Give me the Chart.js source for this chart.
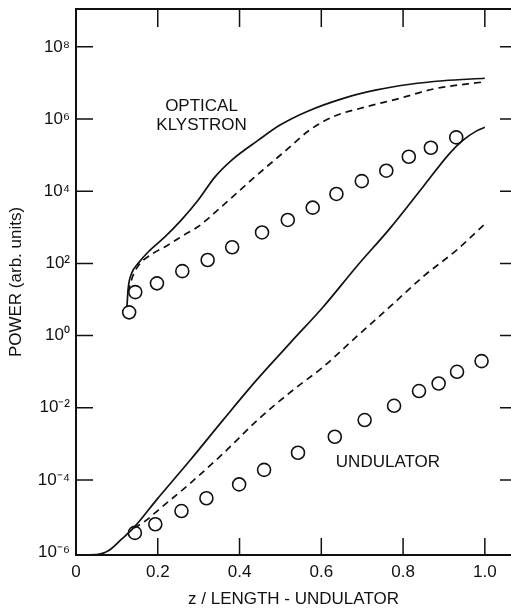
<!DOCTYPE html>
<html>
<head>
<meta charset="utf-8">
<script src="https://cdn.jsdelivr.net/npm/chart.js@4.4.0/dist/chart.umd.min.js"></script>
<style>
  html, body { margin: 0; padding: 0; background: #fff; overflow: hidden; }
</style>
</head>
<body>
<canvas id="powerChart" width="511" height="610"></canvas>
<script>
// values (z = position / undulator length, power in arb. units)
const klystronSolidZ = [0.1245, 0.128, 0.136, 0.152, 0.177, 0.218, 0.258, 0.299, 0.340, 0.381, 0.446, 0.499, 0.564, 0.654, 0.735, 0.817, 0.898, 1.0];
const klystronSolidP = [6.3, 22, 53, 100, 210, 550, 1.6e3, 5.7e3, 2.5e4, 7.3e4, 2.6e5, 6.8e5, 1.6e6, 3.75e6, 6.4e6, 9.2e6, 1.15e7, 1.35e7];

const klystronDashZ = [0.127, 0.136, 0.144, 0.157, 0.189, 0.218, 0.271, 0.299, 0.352, 0.434, 0.515, 0.572, 0.629, 0.711, 0.792, 0.874, 1.0];
const klystronDashP = [16, 36, 60, 100, 190, 290, 680, 1.05e3, 3.4e3, 2.3e4, 1.4e5, 5.0e5, 1.16e6, 2.2e6, 3.75e6, 6.8e6, 1.08e7];

const klystronDotsZ = [0.130, 0.145, 0.198, 0.260, 0.322, 0.382, 0.455, 0.518, 0.579, 0.637, 0.699, 0.759, 0.814, 0.868, 0.930];
const klystronDotsP = [4.4, 16, 28, 61, 124, 280, 720, 1.6e3, 3.5e3, 8.4e3, 1.9e4, 3.7e4, 9.0e4, 1.6e5, 3.1e5];

const undulatorSolidZ = [0, 0.05, 0.08, 0.11, 0.143, 0.197, 0.279, 0.360, 0.442, 0.523, 0.605, 0.686, 0.768, 0.849, 0.914, 0.947, 0.980, 1.0];
const undulatorSolidP = [8.4e-7, 8.5e-7, 1.1e-6, 2.2e-6, 5.0e-6, 2.8e-5, 3.5e-4, 4.6e-3, 5.9e-2, 0.61, 6.3, 81, 935, 1.33e4, 1.12e5, 2.6e5, 4.7e5, 5.9e5];

const undulatorDashZ = [0.142, 0.173, 0.204, 0.279, 0.360, 0.448, 0.531, 0.605, 0.686, 0.768, 0.849, 0.931, 1.0];
const undulatorDashP = [4.6e-6, 7.8e-6, 1.55e-5, 8.0e-5, 5.4e-4, 5.0e-3, 3.1e-2, 0.136, 0.93, 6.3, 43, 234, 1.23e3];

const undulatorDotsZ = [0.144, 0.194, 0.258, 0.319, 0.399, 0.460, 0.543, 0.633, 0.706, 0.778, 0.839, 0.887, 0.932, 0.992];
const undulatorDotsP = [3.4e-6, 5.9e-6, 1.37e-5, 3.1e-5, 7.5e-5, 1.9e-4, 5.65e-4, 1.57e-3, 4.55e-3, 1.13e-2, 2.9e-2, 4.7e-2, 9.9e-2, 0.196];

const xTicks = [0, 0.2, 0.4, 0.6, 0.8, 1.0];
const xTickLabels = ['0', '0.2', '0.4', '0.6', '0.8', '1.0'];
const yTicks = [1e-6, 1e-4, 1e-2, 1e0, 1e2, 1e4, 1e6, 1e8];
const yTickLabels = ['10⁻⁶', '10⁻⁴', '10⁻²', '10⁰', '10²', '10⁴', '10⁶', '10⁸'];

const curveLabels = [
  { text: 'OPTICAL', z: 0.307, p: 2.3e6 },
  { text: 'KLYSTRON', z: 0.307, p: 6.5e5 },
  { text: 'UNDULATOR', z: 0.763, p: 3.1e-4 }
];

const FONT = '"Liberation Sans", Arial, sans-serif';
const INK = '#111';

function pts(zs, ps) {
  return zs.map((z, i) => ({ x: z, y: ps[i] }));
}

function curve(zs, ps, dash) {
  return {
    data: pts(zs, ps),
    showLine: true,
    borderColor: INK,
    borderWidth: 1.7,
    borderDash: dash,
    pointRadius: 0,
    cubicInterpolationMode: 'monotone',
    fill: false
  };
}

function dots(zs, ps) {
  return {
    data: pts(zs, ps),
    showLine: false,
    pointStyle: 'circle',
    pointRadius: 6.5,
    pointBorderWidth: 1.6,
    pointBorderColor: INK,
    pointBackgroundColor: 'rgba(0,0,0,0)'
  };
}

// frame with inward tick marks + curve labels
const frameTicks = {
  id: 'frameTicks',
  afterDatasetsDraw(chart) {
    const { ctx, chartArea: a, scales: { x, y } } = chart;
    ctx.save();
    ctx.strokeStyle = INK;
    ctx.lineWidth = 2;
    ctx.beginPath();
    ctx.moveTo(a.right, a.top);
    ctx.lineTo(a.left, a.top);
    ctx.lineTo(a.left, a.bottom);
    ctx.lineTo(a.right, a.bottom);
    ctx.stroke();

    ctx.lineWidth = 1.5;
    ctx.beginPath();
    x.ticks.forEach(t => {
      if (t.value === 0) return;
      const px = x.getPixelForValue(t.value);
      ctx.moveTo(px, a.bottom);
      ctx.lineTo(px, a.bottom - 17);
      ctx.moveTo(px, a.top);
      ctx.lineTo(px, a.top + 18);
    });
    y.ticks.forEach(t => {
      const py = y.getPixelForValue(t.value);
      if (Math.abs(py - a.bottom) < 3) return;
      ctx.moveTo(a.left, py);
      ctx.lineTo(a.left + 17, py);
      ctx.moveTo(a.right, py);
      ctx.lineTo(a.right - 11, py);
    });
    ctx.stroke();

    ctx.fillStyle = INK;
    ctx.font = '17px ' + FONT;
    ctx.textAlign = 'center';
    ctx.textBaseline = 'middle';
    curveLabels.forEach(l => {
      ctx.fillText(l.text, x.getPixelForValue(l.z), y.getPixelForValue(l.p));
    });
    ctx.restore();
  }
};

Chart.defaults.color = INK;
Chart.defaults.font.family = FONT;

new Chart(document.getElementById('powerChart'), {
  type: 'scatter',
  data: {
    datasets: [
      curve(klystronSolidZ, klystronSolidP, []),
      curve(klystronDashZ, klystronDashP, [7, 5]),
      dots(klystronDotsZ, klystronDotsP),
      curve(undulatorSolidZ, undulatorSolidP, []),
      curve(undulatorDashZ, undulatorDashP, [7, 5]),
      dots(undulatorDotsZ, undulatorDotsP)
    ]
  },
  options: {
    responsive: false,
    animation: false,
    layout: { autoPadding: false, padding: { top: 9, left: 0, right: 0, bottom: 0 } },
    plugins: {
      legend: { display: false },
      tooltip: { enabled: false }
    },
    scales: {
      x: {
        type: 'linear',
        min: 0,
        max: 1.064,
        grid: { display: false, drawTicks: false },
        border: { display: false },
        afterBuildTicks: s => { s.ticks = xTicks.map(v => ({ value: v })); },
        afterFit: s => { s.height = 55; s.paddingLeft = 0; s.paddingRight = 0; },
        ticks: {
          padding: 7,
          maxRotation: 0,
          autoSkip: false,
          font: { size: 17 },
          callback: (v, i) => xTickLabels[i]
        },
        title: {
          display: true,
          text: 'z / LENGTH - UNDULATOR',
          font: { size: 17 },
          padding: { top: 0, bottom: 0 }
        }
      },
      y: {
        type: 'logarithmic',
        min: 8.3e-7,
        max: 1.12e9,
        grid: { display: false, drawTicks: false },
        border: { display: false },
        afterBuildTicks: s => { s.ticks = yTicks.map(v => ({ value: v })); },
        afterFit: s => { s.width = 76; s.paddingTop = 0; s.paddingBottom = 0; },
        ticks: {
          padding: 6,
          autoSkip: false,
          font: { size: 17 },
          callback: (v, i) => yTickLabels[i]
        },
        title: {
          display: true,
          text: 'POWER (arb. units)',
          font: { size: 17 },
          padding: { top: 6, bottom: 0 }
        }
      }
    }
  },
  plugins: [frameTicks]
});
</script>
</body>
</html>
